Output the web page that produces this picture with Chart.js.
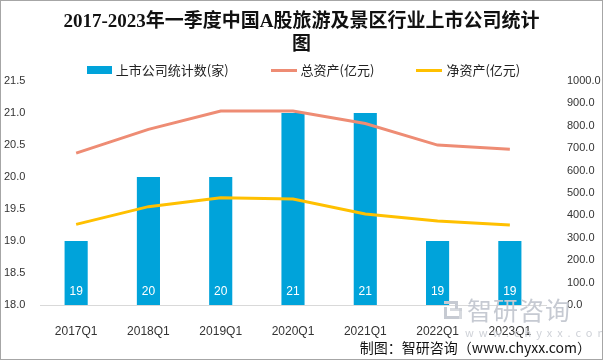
<!DOCTYPE html>
<html>
<head>
<meta charset="utf-8">
<script src="https://cdn.jsdelivr.net/npm/chart.js@4.4.1/dist/chart.umd.min.js"></script>
<style>
  html,body{margin:0;padding:0;background:#fff;}
  #wrap{position:relative;width:603px;height:360px;overflow:hidden;font-family:"Noto Sans CJK SC","Liberation Sans",sans-serif;}
  #chart{position:absolute;left:0;top:0;}
  #frame{position:absolute;left:0;top:0;width:603px;height:360px;box-sizing:border-box;border:1px solid #a6a6a6;pointer-events:none;}
  #title{position:absolute;left:0;top:9px;width:603px;text-align:center;font-family:"Liberation Serif","Noto Sans CJK SC",serif;font-weight:bold;font-size:19px;line-height:23px;color:#111;}
  #legend{position:absolute;left:0;top:62px;width:607px;display:flex;justify-content:center;gap:42px;font-size:13px;line-height:16px;color:#222;}
  #legend .item{display:flex;align-items:center;gap:4px;}
  #legend .box{width:25px;height:8px;}
  #legend .line{width:26px;height:3px;}
  #footer{position:absolute;right:12px;top:338px;font-size:14px;line-height:18px;color:#111;}
  #wm{position:absolute;left:444px;top:297px;color:#c6cad2;pointer-events:none;}
  #wm .logo{position:absolute;left:0;top:4px;width:18px;height:18px;}
  #wm .logo i{position:absolute;background:#c6cad2;}
  #wm .name{position:absolute;left:23px;top:-2px;font-size:25px;line-height:28px;white-space:nowrap;letter-spacing:1px;}
  #wm .url{position:absolute;left:21px;top:29px;font-size:11px;line-height:12px;letter-spacing:5px;white-space:nowrap;color:#cfd2d8;}
</style>
</head>
<body>
<div id="wrap">
  <canvas id="chart" width="603" height="360"></canvas>
  <div id="wm">
    <div class="logo">
      <i style="left:0;top:0;width:14px;height:3px"></i>
      <i style="left:11px;top:0;width:3px;height:8px"></i>
      <i style="left:0;top:6px;width:3px;height:12px"></i>
      <i style="left:6px;top:7px;width:12px;height:3px;opacity:.7"></i>
      <i style="left:15px;top:7px;width:3px;height:11px;opacity:.7"></i>
      <i style="left:3px;top:15px;width:12px;height:3px"></i>
    </div>
    <div class="name">智研咨询</div><div class="url">www.chyxx.com</div>
  </div>
  <div id="title">2017-2023年一季度中国A股旅游及景区行业上市公司统计<br>图</div>
  <div id="legend"></div>
  <div id="footer">制图：智研咨询（www.chyxx.com）</div>
  <div id="frame"></div>
</div>
<script>
const quarters=["2017Q1","2018Q1","2019Q1","2020Q1","2021Q1","2022Q1","2023Q1"];
const companyCount=[19,20,20,21,21,19,19];// 上市公司统计数(家)
const totalAssets=[678,784,866,866,810,714,695];// 总资产(亿元)
const netAssets=[360,439,479,473,406,375,357];// 净资产(亿元)
const leftTicks=[18,18.5,19,19.5,20,20.5,21,21.5];
const rightTicks=[0,100,200,300,400,500,600,700,800,900,1000];

const seriesInfo=[
  { label:"上市公司统计数(家)", color:"#00a3da", kind:"box" },
  { label:"总资产(亿元)", color:"#ee8c74", kind:"line" },
  { label:"净资产(亿元)", color:"#ffc000", kind:"line" }
];

// html legend
const legendEl=document.getElementById("legend");
seriesInfo.forEach(s=>{
  const item=document.createElement("div");
  item.className="item";
  const mark=document.createElement("span");
  mark.className=s.kind;
  mark.style.background=s.color;
  const txt=document.createElement("span");
  txt.textContent=s.label;
  item.appendChild(mark);
  item.appendChild(txt);
  legendEl.appendChild(item);
});

// white count labels inside the bars
const barLabels={
  id:"barLabels",
  afterDraw(chart){
    const meta=chart.getDatasetMeta(0);
    const yScale=chart.scales.y;
    const baseY=yScale.getPixelForValue(yScale.min);
    const ctx=chart.ctx;
    ctx.save();
    ctx.fillStyle="#ffffff";
    ctx.font='12px "Liberation Sans", sans-serif';
    ctx.textAlign="center";
    ctx.textBaseline="middle";
    meta.data.forEach((bar,i)=>{
      ctx.fillText(String(companyCount[i]),bar.x,baseY-13);
    });
    ctx.restore();
  }
};

const tickFont={family:'"Liberation Sans", sans-serif',size:11};

new Chart(document.getElementById("chart"),{
  type:"bar",
  data:{
    labels:quarters,
    datasets:[
      { type:"bar", label:seriesInfo[0].label, data:companyCount, backgroundColor:seriesInfo[0].color,
        yAxisID:"y", barPercentage:0.32, categoryPercentage:1, order:3 },
      { type:"line", label:seriesInfo[1].label, data:totalAssets, borderColor:seriesInfo[1].color,
        borderWidth:3, pointRadius:0, tension:0, yAxisID:"y1", order:1 },
      { type:"line", label:seriesInfo[2].label, data:netAssets, borderColor:seriesInfo[2].color,
        borderWidth:3, pointRadius:0, tension:0, yAxisID:"y1", order:2 }
    ]
  },
  options:{
    responsive:false,
    animation:false,
    layout:{ padding:{ top:81, left:4, right:0, bottom:0 } },
    plugins:{ legend:{ display:false }, title:{ display:false }, tooltip:{ enabled:false } },
    scales:{
      x:{
        grid:{ display:false },
        border:{ display:true, color:"#d9d9d9", width:1 },
        ticks:{ color:"#333", font:{ family:'"Liberation Sans", sans-serif', size:12 }, padding:11, maxRotation:0 },
        afterFit:s=>{ s.height=55; }
      },
      y:{
        position:"left",
        min:18, max:21.5,
        grid:{ display:false },
        border:{ display:false },
        afterBuildTicks:s=>{ s.ticks=leftTicks.map(v=>({value:v})); },
        ticks:{ color:"#333", font:tickFont, crossAlign:"far", padding:0, callback:v=>Number(v).toFixed(1) },
        afterFit:s=>{ s.width=36; }
      },
      y1:{
        position:"right",
        min:0, max:1000,
        grid:{ display:false },
        border:{ display:false },
        afterBuildTicks:s=>{ s.ticks=rightTicks.map(v=>({value:v})); },
        ticks:{ color:"#333", font:tickFont, crossAlign:"near", padding:13, callback:v=>Number(v).toFixed(1) },
        afterFit:s=>{ s.width=57; }
      }
    }
  },
  plugins:[barLabels]
});
</script>
</body>
</html>
